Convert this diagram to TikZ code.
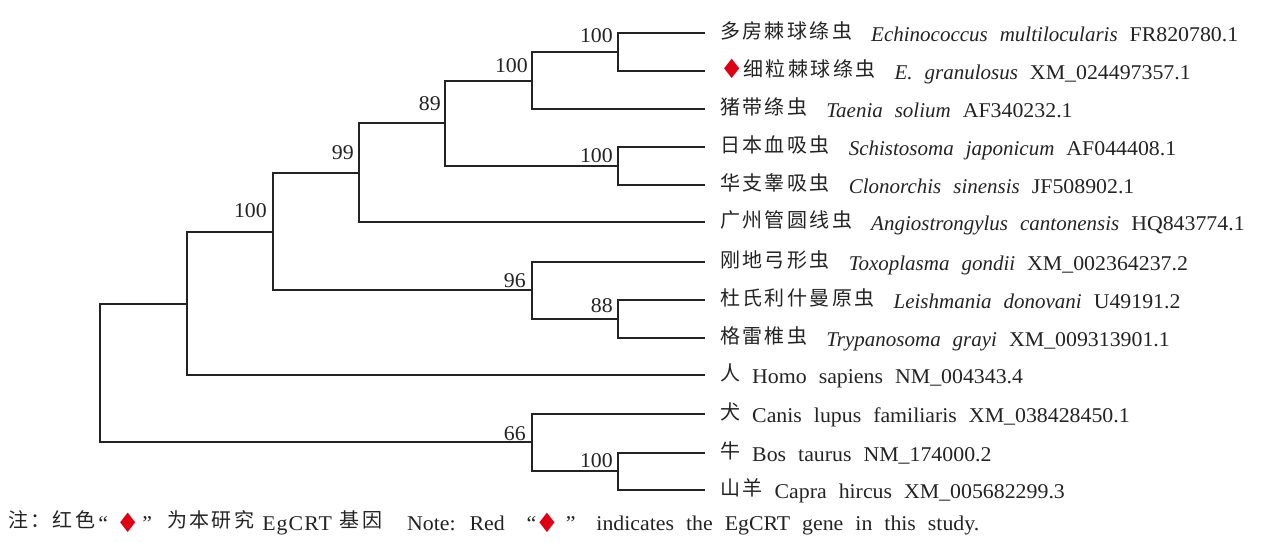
\documentclass[tikz,border=0pt]{standalone}
\usepackage{fontspec}
\setmainfont{Liberation Serif}[UprightFeatures={FakeStretch=1.04}]
\newfontfamily\cjk[LetterSpace=12]{Noto Sans CJK SC}
\newfontfamily\symfont{DejaVu Sans}
\definecolor{diared}{RGB}{222,0,18}
\definecolor{ink}{RGB}{35,35,35}
\newcommand{\rdia}[1]{{\symfont\color{diared}\raisebox{#1}{\scalebox{0.95}[1.22]{◆}}}}
\newcommand{\zh}[1]{{\fontsize{20pt}{24pt}\cjk\raisebox{3pt}{#1}}}
\newcommand{\lfp}[2]{\zh{#1}\hspace{12pt}#2}
\newcommand{\lfi}[3]{\zh{#1}\hspace{19pt}\textit{#2}\hspace{12pt}#3}
\newcommand{\leaffont}{\fontsize{21pt}{24pt}\selectfont\setlength{\spaceskip}{12pt}}
\newcommand{\bsfont}{\fontsize{21pt}{24pt}\selectfont}
\tikzset{
  br/.style={line width=1.6pt, draw=ink},
  bs/.style={font=\bsfont, inner sep=0pt, anchor=base east, text=ink},
  leaf/.style={font=\leaffont, inner sep=0pt, anchor=base west, text=ink}
}
\begin{document}
\begin{tikzpicture}[x=1pt,y=-1pt]
\useasboundingbox (0,0) rectangle (1268,543);
% internal nodes
\coordinate (R) at (100,373);
\coordinate (A) at (187,304);
\coordinate (B) at (273,232);
\coordinate (C) at (359,173);
\coordinate (D) at (445,123);
\coordinate (E) at (532,81);
\coordinate (F) at (618,52);
\coordinate (G) at (618,166);
\coordinate (H) at (532,290);
\coordinate (I) at (618,319);
\coordinate (J) at (532,442);
\coordinate (K) at (618,471);
% leaves
\coordinate (L1) at (705,33);
\coordinate (L2) at (705,71);
\coordinate (L3) at (705,109);
\coordinate (L4) at (705,147);
\coordinate (L5) at (705,185);
\coordinate (L6) at (705,222);
\coordinate (L7) at (705,262);
\coordinate (L8) at (705,300);
\coordinate (L9) at (705,338);
\coordinate (L10) at (705,375);
\coordinate (L11) at (705,414);
\coordinate (L12) at (705,453);
\coordinate (L13) at (705,490);
% branches
\draw[br] (R) |- (A);  \draw[br] (R) |- (J);
\draw[br] (A) |- (B);  \draw[br] (A) |- (L10);
\draw[br] (B) |- (C);  \draw[br] (B) |- (H);
\draw[br] (C) |- (D);  \draw[br] (C) |- (L6);
\draw[br] (D) |- (E);  \draw[br] (D) |- (G);
\draw[br] (E) |- (F);  \draw[br] (E) |- (L3);
\draw[br] (F) |- (L1); \draw[br] (F) |- (L2);
\draw[br] (G) |- (L4); \draw[br] (G) |- (L5);
\draw[br] (H) |- (L7); \draw[br] (H) |- (I);
\draw[br] (I) |- (L8); \draw[br] (I) |- (L9);
\draw[br] (J) |- (L11); \draw[br] (J) |- (K);
\draw[br] (K) |- (L12); \draw[br] (K) |- (L13);
% bootstrap values
\node[bs] (bF) at ([xshift=-5pt,yshift=9pt]F) {100};
\node[bs] (bE) at ([xshift=-4pt,yshift=9pt]E) {100};
\node[bs] (bD) at ([xshift=-4pt,yshift=13pt]D) {89};
\node[bs] (bC) at ([xshift=-5pt,yshift=14pt]C) {99};
\node[bs] (bG) at ([xshift=-5pt,yshift=4pt]G) {100};
\node[bs] (bB) at ([xshift=-6pt,yshift=15pt]B) {100};
\node[bs] (bH) at ([xshift=-6pt,yshift=3pt]H) {96};
\node[bs] (bI) at ([xshift=-5pt,yshift=7pt]I) {88};
\node[bs] (bJ) at ([xshift=-6pt,yshift=2pt]J) {66};
\node[bs] (bK) at ([xshift=-5pt,yshift=4pt]K) {100};
% leaf labels
\tikzset{lpos/.style={xshift=15pt,yshift=-8.5pt}}
\node[leaf] (t1) at ([lpos]L1) {\lfi{多房棘球绦虫}{Echinococcus multilocularis}{FR820780.1}};
\node[leaf] (t2) at ([lpos]L2) {\hspace{4pt}\rdia{4.5pt}\hspace{4pt}\lfi{细粒棘球绦虫}{E. granulosus}{XM\_024497357.1}};
\node[leaf] (t3) at ([lpos]L3) {\lfi{猪带绦虫}{Taenia solium}{AF340232.1}};
\node[leaf] (t4) at ([lpos]L4) {\lfi{日本血吸虫}{Schistosoma japonicum}{AF044408.1}};
\node[leaf] (t5) at ([lpos]L5) {\lfi{华支睾吸虫}{Clonorchis sinensis}{JF508902.1}};
\node[leaf] (t6) at ([lpos]L6) {\lfi{广州管圆线虫}{Angiostrongylus cantonensis}{HQ843774.1}};
\node[leaf] (t7) at ([lpos]L7) {\lfi{刚地弓形虫}{Toxoplasma gondii}{XM\_002364237.2}};
\node[leaf] (t8) at ([lpos]L8) {\lfi{杜氏利什曼原虫}{Leishmania donovani}{U49191.2}};
\node[leaf] (t9) at ([lpos]L9) {\lfi{格雷椎虫}{Trypanosoma grayi}{XM\_009313901.1}};
\node[leaf] (t10) at ([lpos]L10) {\lfp{人}{Homo sapiens NM\_004343.4}};
\node[leaf] (t11) at ([lpos]L11) {\lfp{犬}{Canis lupus familiaris XM\_038428450.1}};
\node[leaf] (t12) at ([lpos]L12) {\lfp{牛}{Bos taurus NM\_174000.2}};
\node[leaf] (t13) at ([lpos]L13) {\lfp{山羊}{Capra hircus XM\_005682299.3}};
% footnote
\node[leaf] (n1) at (8,530) {\zh{注：红色}\hspace{3pt}“\hspace{12pt}\rdia{1pt}\hspace{7pt}”\hspace{15pt}\zh{为本研究}\hspace{8pt}{\addfontfeature{LetterSpace=5}EgCRT}\hspace{8pt}\zh{基因}};
\node[leaf] (n2) at (407,530) {Note: Red\hspace{22pt}“\hspace{3pt}\rdia{1pt}\hspace{11pt}”\hspace{21pt}indicates the EgCRT gene in this study.};
\end{tikzpicture}
\end{document}
